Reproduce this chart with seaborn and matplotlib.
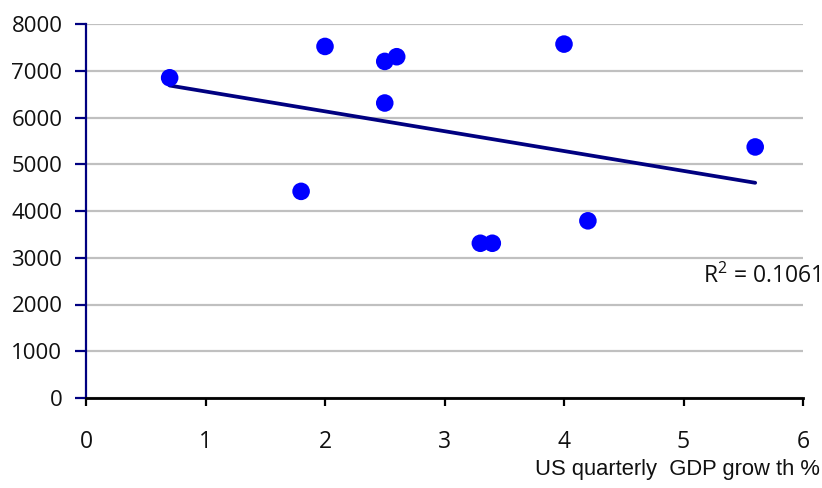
import matplotlib
matplotlib.use("Agg")
import matplotlib.pyplot as plt
import seaborn as sns
import numpy as np
import pandas as pd

gdp_growth = [0.7, 1.8, 2.0, 2.5, 2.5, 2.6, 3.3, 3.4, 4.0, 4.2, 5.6]
values = [6850, 4420, 7520, 7200, 6310, 7300, 3310, 3310, 7570, 3790, 5370]
x_ticks = [0, 1, 2, 3, 4, 5, 6]
y_ticks = [0, 1000, 2000, 3000, 4000, 5000, 6000, 7000, 8000]
r2_label = "R$^2$ = 0.1061"
x_label = "US quarterly  GDP grow th %"

df = pd.DataFrame({"x": gdp_growth, "y": values})

sns.set_theme(style="white")
plt.rcParams['font.family'] = ['Open Sans', 'DejaVu Sans']
plt.rcParams['mathtext.fontset'] = 'custom'
plt.rcParams['mathtext.rm'] = 'Open Sans'

fig = plt.figure(figsize=(8.22, 4.88), dpi=100)
ax = fig.add_axes([86/822, 1-398/488, (803-86)/822, (398-24)/488])

ax.set_xlim(0, 6)
ax.set_ylim(0, 8000)
ax.set_yticks(y_ticks)
ax.set_xticks(x_ticks)
ax.yaxis.grid(True, color="#c0c0c0", linewidth=1.6)
ax.xaxis.grid(False)
ax.set_axisbelow(True)

sns.regplot(data=df, x="x", y="y", ax=ax, scatter=False, ci=None,
            line_kws=dict(color="#000080", linewidth=2.7, zorder=3))
sns.scatterplot(data=df, x="x", y="y", ax=ax, color="#0000ff", s=160,
                edgecolor="none", zorder=4, legend=False)

for s in ["top", "right"]:
    ax.spines[s].set_visible(False)
ax.spines["left"].set_color("#000080")
ax.spines["left"].set_linewidth(1.6)
ax.spines["bottom"].set_color("black")
ax.spines["bottom"].set_linewidth(2.0)
ax.spines["bottom"].set_zorder(5)

ax.tick_params(axis="y", direction="out", length=8, width=1.6, color="#000080",
               pad=9, labelsize=16, left=True, labelcolor="#111111")
ax.tick_params(axis="x", direction="out", length=6, width=1.6, color="black",
               pad=17, labelsize=16.5, bottom=True, labelcolor="#111111")

ax.set_xlabel("")
ax.set_ylabel("")
fig.text(820/822, 1-470/488, x_label, ha="right", va="center", fontsize=15.8,
         family=['Liberation Sans Narrow', 'Liberation Sans', 'DejaVu Sans'], color="#111111")
fig.text(820/822, 1-276/488, r2_label, ha="right", va="center", fontsize=16.5,
         color="#111111")

fig.savefig("out.png", dpi=100, facecolor="white")
